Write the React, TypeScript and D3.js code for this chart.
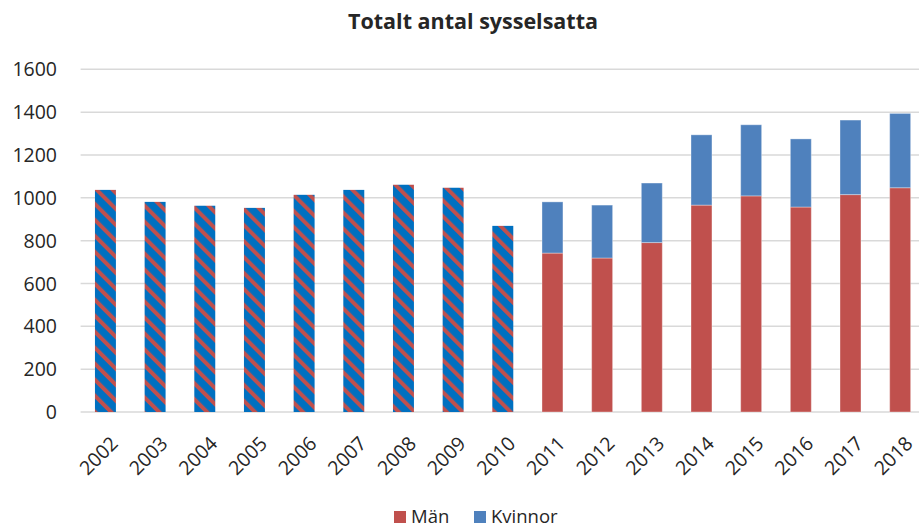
import React from "react";
import * as d3 from "d3";

// år på x-axeln
const years = ["2002", "2003", "2004", "2005", "2006", "2007", "2008", "2009", "2010",
  "2011", "2012", "2013", "2014", "2015", "2016", "2017", "2018"];

// 2002-2010 finns bara totalen (ingen uppdelning på kön)
const totalYears = ["2002", "2003", "2004", "2005", "2006", "2007", "2008", "2009", "2010"];
const totalValues = [1037, 981, 963, 953, 1014, 1037, 1061, 1047, 869];

// 2011-2018 uppdelat på män och kvinnor
const splitYears = ["2011", "2012", "2013", "2014", "2015", "2016", "2017", "2018"];
const men = [742, 719, 791, 966, 1009, 957, 1015, 1047];
const women = [239, 247, 278, 328, 332, 318, 348, 347];

const yTicks = [0, 200, 400, 600, 800, 1000, 1200, 1400, 1600];
const legendItems = [
  { label: "Män", color: "#C0504D" },
  { label: "Kvinnor", color: "#4F81BD" },
];

const width = 919;
const height = 526;
const margin = { top: 69.3, right: -6, bottom: 114, left: 80.6 };
const font = "'Open Sans', sans-serif";

export default function App() {
  const x = d3.scaleBand<string>()
    .domain(years)
    .range([margin.left, width - margin.right])
    .paddingInner(0.578)
    .paddingOuter(0.289);

  const y = d3.scaleLinear()
    .domain([0, 1600])
    .range([height - margin.bottom, margin.top]);

  const bw = x.bandwidth();

  return (
    <svg width={width} height={height} style={{ position: "absolute", left: 0, top: 0, background: "#fff" }}>
      <defs>
        <pattern id="hatch" patternUnits="userSpaceOnUse" width={11.3} height={11.3}
          patternTransform="rotate(-45)">
          <rect width={11.3} height={11.3} fill="#0070C0" />
          <rect width={4} height={11.3} fill="#C0504D" />
        </pattern>
      </defs>

      <text x={473} y={29} textAnchor="middle" fontFamily={font} fontWeight="bold"
        fontSize={21.5} fill="#262626">Totalt antal sysselsatta</text>

      {yTicks.map(t => (
        <g key={t}>
          <line x1={margin.left} x2={width} y1={y(t)} y2={y(t)} stroke="#D9D9D9" strokeWidth={1.5} />
          <text x={57} y={y(t)} dy="0.36em" textAnchor="end" fontFamily={font} fontSize={19.5}
            fill="#262626">{t}</text>
        </g>
      ))}

      {totalYears.map((yr, i) => (
        <rect key={yr} x={x(yr)} y={y(totalValues[i])} width={bw}
          height={y(0) - y(totalValues[i])} fill="url(#hatch)" />
      ))}

      {splitYears.map((yr, i) => (
        <g key={yr}>
          <rect x={x(yr)} y={y(men[i])} width={bw} height={y(0) - y(men[i])}
            fill="#C0504D" stroke="#fff" strokeOpacity={0.35} strokeWidth={1} />
          <rect x={x(yr)} y={y(men[i] + women[i])} width={bw} height={y(men[i]) - y(men[i] + women[i])}
            fill="#4F81BD" stroke="#fff" strokeOpacity={0.35} strokeWidth={1} />
        </g>
      ))}

      {years.map(yr => {
        const cx = (x(yr) as number) + bw / 2;
        return (
          <text key={yr} transform={`translate(${cx + 9},${440}) rotate(-45)`} textAnchor="end"
            dy="0.35em" fontFamily={font} fontSize={19.5} fill="#262626">{yr}</text>
        );
      })}

      {legendItems.map((d, i) => {
        const lx = i === 0 ? 394 : 474;
        return (
          <g key={d.label}>
            <rect x={lx} y={511} width={12} height={12} fill={d.color} />
            <text x={lx + 17} y={516} dy="0.36em" fontFamily={font} fontSize={18.5}
              fill="#262626">{d.label}</text>
          </g>
        );
      })}
    </svg>
  );
}
